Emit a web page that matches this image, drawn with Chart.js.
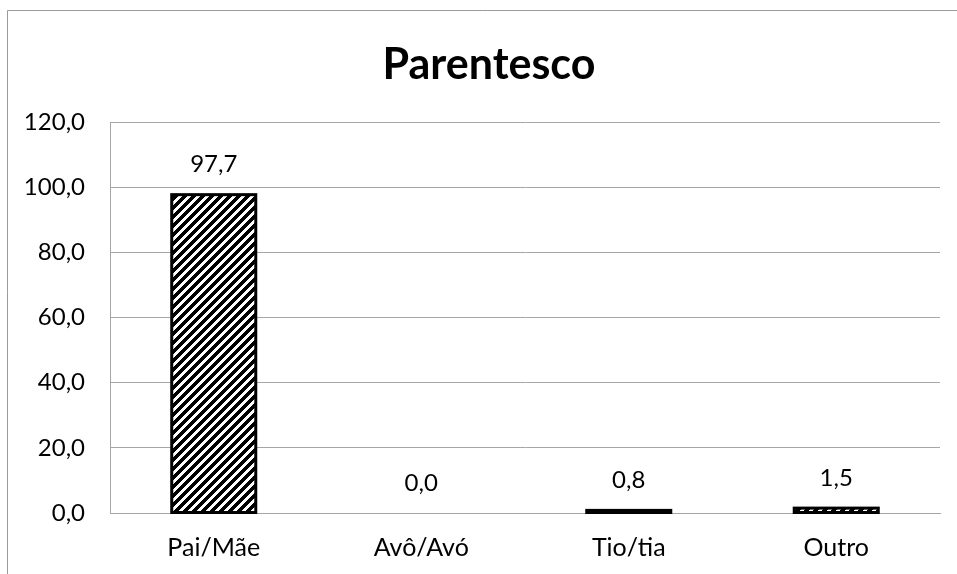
<!DOCTYPE html>
<html>
<head>
<meta charset="utf-8">
<script src="https://cdn.jsdelivr.net/npm/chart.js@4/dist/chart.umd.min.js"></script>
<style>
  html, body { margin: 0; padding: 0; background: #ffffff; overflow: hidden; }
  #wrap { position: relative; width: 957px; height: 574px; }
</style>
</head>
<body>
<div id="wrap"><canvas id="chart" width="957" height="574"></canvas></div>
<script>
// Parentesco – percentage of respondents by relationship
const categories = ['Pai/Mãe', 'Avô/Avó', 'Tio/tia', 'Outro'];
const percentages = [97.7, 0.0, 0.8, 1.5];
const tickValues = [0, 20, 40, 60, 80, 100, 120];
const chartTitle = 'Parentesco';

const FONT = 'Lato, "Open Sans", "Liberation Sans", sans-serif';
const GRID = '#a6a6a6';

// Upward diagonal hatch fill used for every bar
function makeHatch() {
  const period = 9, ink = 5;
  const c = document.createElement('canvas');
  c.width = period; c.height = period;
  const g = c.getContext('2d');
  g.fillStyle = '#ffffff';
  g.fillRect(0, 0, period, period);
  g.fillStyle = '#000000';
  for (let y = 0; y < period; y++) {
    for (let x = 0; x < period; x++) {
      if ((x + y) % period < ink) g.fillRect(x, y, 1, 1);
    }
  }
  return g.createPattern(c, 'repeat');
}

const fmt = v => v.toFixed(1).replace('.', ',');

// Outer frame of the chart box and the centred title
const framePlugin = {
  id: 'frame',
  beforeDraw(chart) {
    const ctx = chart.ctx;
    ctx.save();
    ctx.strokeStyle = '#9a9a9a';
    ctx.lineWidth = 1;
    ctx.beginPath();
    ctx.moveTo(7.5, chart.height + 2);
    ctx.lineTo(7.5, 10.5);
    ctx.lineTo(chart.width + 2, 10.5);
    ctx.stroke();
    ctx.fillStyle = '#000000';
    ctx.font = 'bold 43px ' + FONT;
    ctx.textAlign = 'center';
    ctx.textBaseline = 'middle';
    ctx.fillText(chartTitle, 489, 65);
    ctx.restore();
  }
};

// Bar outlines (centred on the bar edges) and value labels above each bar
const barDecor = {
  id: 'barDecor',
  afterDatasetsDraw(chart) {
    const ctx = chart.ctx;
    const meta = chart.getDatasetMeta(0);
    ctx.save();
    ctx.strokeStyle = '#000000';
    ctx.lineWidth = 3;
    meta.data.forEach((bar, i) => {
      if (percentages[i] <= 0) return;
      const p = bar.getProps(['x', 'y', 'base', 'width']);
      ctx.strokeRect(p.x - p.width / 2, p.y, p.width, p.base - p.y);
    });
    ctx.fillStyle = '#000000';
    ctx.font = '24px ' + FONT;
    ctx.textAlign = 'center';
    ctx.textBaseline = 'middle';
    meta.data.forEach((bar, i) => {
      ctx.fillText(fmt(percentages[i]), bar.x, bar.y - 30);
    });
    ctx.restore();
  }
};

new Chart(document.getElementById('chart'), {
  type: 'bar',
  data: {
    labels: categories,
    datasets: [{
      data: percentages,
      backgroundColor: makeHatch(),
      borderWidth: 0,
      categoryPercentage: 1.0,
      barPercentage: 0.405
    }]
  },
  options: {
    responsive: false,
    animation: false,
    events: [],
    layout: { padding: { left: 0, right: 17, top: 122, bottom: 0 } },
    plugins: {
      legend: { display: false },
      tooltip: { enabled: false },
      title: { display: false }
    },
    scales: {
      x: {
        grid: { display: false, drawTicks: false },
        border: { display: true, color: GRID, width: 1 },
        ticks: { color: '#000000', font: { family: FONT, size: 25 }, padding: 20 },
        afterFit(scale) { scale.height = 61; }
      },
      y: {
        min: 0,
        max: 120,
        afterBuildTicks(scale) { scale.ticks = tickValues.map(v => ({ value: v })); },
        grid: { color: GRID, lineWidth: 1, drawTicks: false },
        border: { display: true, color: GRID, width: 1 },
        ticks: {
          color: '#000000',
          font: { family: FONT, size: 24 },
          padding: 25,
          callback: v => fmt(v)
        },
        afterFit(scale) { scale.width = 110; }
      }
    }
  },
  plugins: [framePlugin, barDecor]
});
</script>
</body>
</html>
